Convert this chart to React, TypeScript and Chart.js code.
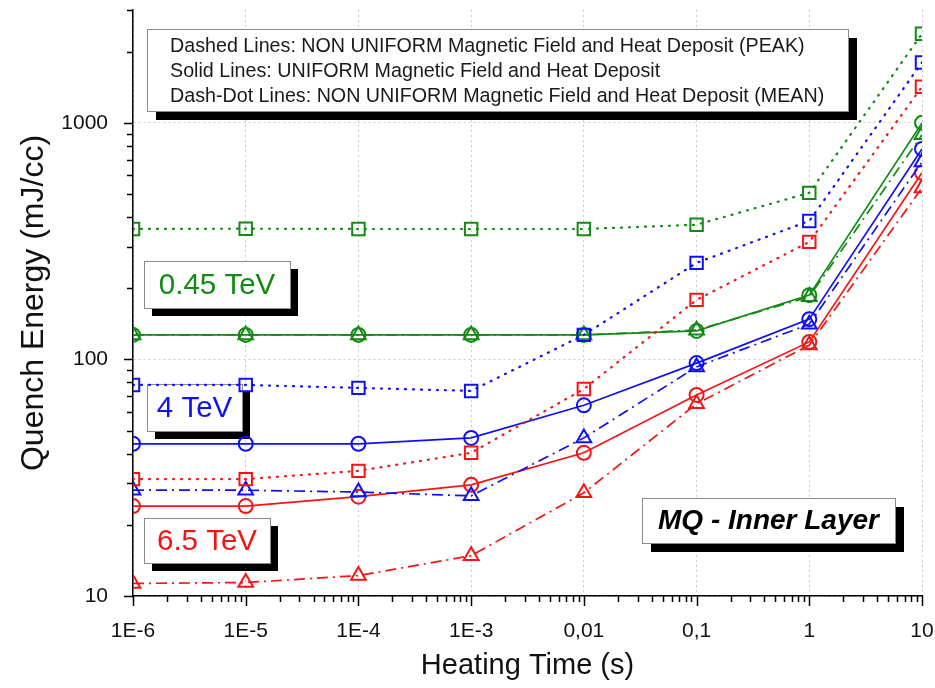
import React, { useEffect, useRef } from 'react';
import { Chart, registerables } from 'chart.js';

Chart.register(...registerables);

const FONT = "'Liberation Sans', Arial, Helvetica, sans-serif";

// Heating time categories (s) and their axis labels
const heatingTimes = [1e-6, 1e-5, 1e-4, 1e-3, 1e-2, 1e-1, 1, 10];
const xTickLabels = ['1E-6', '1E-5', '1E-4', '1E-3', '0,01', '0,1', '1', '10'];
const yTickValues = [10, 100, 1000];
const yTickLabels = ['10', '100', '1000'];

// Quench energy (mJ/cc)
const green045Peak = [356, 357, 356, 356, 356, 371, 506, 2380];
const green045Uniform = [127, 127, 127, 127, 127, 132, 187, 1000];
const green045Mean = [127, 127, 127, 127, 127, 133, 184, 890];
const blue4Peak = [78, 78, 75.8, 73.6, 127, 256, 385, 1800];
const blue4Uniform = [44, 44, 44, 46.6, 64, 96.5, 148, 776];
const blue4Mean = [28, 28, 27.5, 26.5, 46.6, 93, 141, 684];
const red65Peak = [31.2, 31.2, 33.8, 40.3, 75, 178.6, 314, 1420];
const red65Uniform = [24, 24, 26.3, 29.5, 40.3, 70.8, 118.6, 615];
const red65Mean = [11.3, 11.4, 12.2, 14.8, 27.3, 64.9, 115, 531];

const noteLines = [
  'Dashed Lines: NON UNIFORM Magnetic Field and Heat Deposit (PEAK)',
  'Solid Lines: UNIFORM Magnetic Field and Heat Deposit',
  'Dash-Dot Lines: NON UNIFORM Magnetic Field and Heat Deposit (MEAN)',
];
const energyLabels = ['0.45 TeV', '4 TeV', '6.5 TeV'];
const magnetLabel = 'MQ - Inner Layer';

const GREEN = '#138a13';
const BLUE = '#1010f5';
const RED = '#f51414';

type Kind = 'peak' | 'uniform' | 'mean';

function makeDataset(label: string, values: number[], color: string, kind: Kind) {
  const pointStyle = kind === 'peak' ? 'rect' : kind === 'uniform' ? 'circle' : 'triangle';
  const radius = kind === 'peak' ? 8.8 : kind === 'uniform' ? 7 : 8.5;
  const dash = kind === 'peak' ? [1, 7] : kind === 'uniform' ? [] : [11, 5, 2, 5];
  return {
    label,
    data: heatingTimes.map((t, i) => ({ x: t, y: values[i] })),
    borderColor: color,
    borderWidth: kind === 'peak' ? 2.2 : 1.7,
    borderDash: dash,
    borderCapStyle: kind === 'peak' ? 'round' : 'butt',
    pointStyle,
    pointRadius: radius,
    pointBorderWidth: 2,
    pointBorderColor: color,
    pointBackgroundColor: 'rgba(0,0,0,0)',
    fill: false,
    tension: 0,
  };
}

function drawShadowBox(ctx: CanvasRenderingContext2D, x: number, y: number, w: number, h: number, off: number) {
  ctx.fillStyle = '#000';
  ctx.fillRect(x + off, y + off, w, h);
  ctx.fillStyle = '#fff';
  ctx.fillRect(x, y, w, h);
  ctx.strokeStyle = '#8a8a8a';
  ctx.lineWidth = 1;
  ctx.strokeRect(x + 0.5, y + 0.5, w, h);
}

const annotationPlugin = {
  id: 'annotBoxes',
  beforeDatasetsDraw(chart: any) {
    const ctx: CanvasRenderingContext2D = chart.ctx;
    ctx.save();
    // top note box
    drawShadowBox(ctx, 147, 29, 701, 82, 9);
    ctx.fillStyle = '#1a1a1a';
    ctx.font = `19.7px ${FONT}`;
    ctx.textAlign = 'left';
    ctx.textBaseline = 'middle';
    noteLines.forEach((t, i) => ctx.fillText(t, 170, 47 + i * 25));

    // energy labels
    const boxes = [
      { x: 144, y: 261, w: 146, h: 47, c: GREEN },
      { x: 147, y: 384, w: 95, h: 47, c: BLUE },
      { x: 144, y: 518, w: 126, h: 45, c: RED },
    ];
    boxes.forEach((b, i) => {
      drawShadowBox(ctx, b.x, b.y, b.w, b.h, 8);
      ctx.fillStyle = b.c;
      ctx.font = `29.5px ${FONT}`;
      ctx.textAlign = 'center';
      ctx.textBaseline = 'middle';
      ctx.fillText(energyLabels[i], b.x + b.w / 2, b.y + b.h / 2 + 1);
    });

    // magnet label
    drawShadowBox(ctx, 642, 498, 253, 45, 9);
    ctx.fillStyle = '#000';
    ctx.font = `italic bold 28px ${FONT}`;
    ctx.textAlign = 'center';
    ctx.textBaseline = 'middle';
    ctx.fillText(magnetLabel, 642 + 253 / 2, 498 + 45 / 2 + 1);
    ctx.restore();
  },
};

const logTicksPlugin = {
  id: 'logTicks',
  afterDraw(chart: any) {
    const ctx: CanvasRenderingContext2D = chart.ctx;
    const xs = chart.scales.x;
    const ys = chart.scales.y;
    ctx.save();
    ctx.strokeStyle = '#000';
    ctx.lineWidth = 1.5;
    ctx.beginPath();
    for (let e = -6; e <= 1; e++) {
      for (let m = 1; m <= 9; m++) {
        const v = m * Math.pow(10, e);
        if (v > xs.max * 1.0001) continue;
        const px = Math.round(xs.getPixelForValue(v)) + 0.5;
        const len = m === 1 ? 10 : 6;
        ctx.moveTo(px, xs.top);
        ctx.lineTo(px, xs.top + len);
      }
    }
    for (let e = 1; e <= 3; e++) {
      for (let m = 1; m <= 9; m++) {
        const v = m * Math.pow(10, e);
        if (v > ys.max * 1.0001) continue;
        const py = Math.round(ys.getPixelForValue(v)) + 0.5;
        const len = m === 1 ? 9 : 6;
        ctx.moveTo(ys.right, py);
        ctx.lineTo(ys.right - len, py);
      }
    }
    ctx.stroke();
    ctx.restore();
  },
};

function clearScalePadding(s: any) {
  s.paddingLeft = 0;
  s.paddingRight = 0;
  s.paddingTop = 0;
  s.paddingBottom = 0;
}

export default function App() {
  const ref = useRef<HTMLCanvasElement>(null);
  useEffect(() => {
    const canvas = ref.current;
    if (!canvas) return;
    const chart = new Chart(canvas, {
      type: 'line',
      data: {
        datasets: [
          makeDataset('0.45 TeV peak', green045Peak, GREEN, 'peak'),
          makeDataset('4 TeV peak', blue4Peak, BLUE, 'peak'),
          makeDataset('6.5 TeV peak', red65Peak, RED, 'peak'),
          makeDataset('0.45 TeV mean', green045Mean, GREEN, 'mean'),
          makeDataset('4 TeV mean', blue4Mean, BLUE, 'mean'),
          makeDataset('6.5 TeV mean', red65Mean, RED, 'mean'),
          makeDataset('0.45 TeV uniform', green045Uniform, GREEN, 'uniform'),
          makeDataset('4 TeV uniform', blue4Uniform, BLUE, 'uniform'),
          makeDataset('6.5 TeV uniform', red65Uniform, RED, 'uniform'),
        ] as any,
      },
      options: {
        responsive: false,
        animation: false,
        layout: { autoPadding: false, padding: { left: 0, right: 13, top: 10, bottom: 0 } },
        plugins: {
          legend: { display: false },
          tooltip: { enabled: false },
        },
        scales: {
          x: {
            type: 'logarithmic',
            min: 1e-6,
            max: 10,
            afterBuildTicks: (s: any) => {
              s.ticks = heatingTimes.map((v) => ({ value: v }));
            },
            afterFit: (s: any) => {
              s.height = 92;
              clearScalePadding(s);
            },
            grid: { color: '#cccccc', lineWidth: 1, drawTicks: false },
            border: { display: true, color: '#000', width: 1.5, dash: [2, 3] },
            ticks: {
              autoSkip: false,
              maxRotation: 0,
              padding: 23,
              color: '#111',
              font: { family: FONT, size: 21 },
              callback: (v: any) => {
                const i = heatingTimes.findIndex((t) => Math.abs(t / Number(v) - 1) < 1e-6);
                return i >= 0 ? xTickLabels[i] : '';
              },
            },
            title: {
              display: true,
              text: 'Heating Time (s)',
              color: '#111',
              font: { family: FONT, size: 29 },
              padding: { top: 0, bottom: 5 },
            },
          },
          y: {
            type: 'logarithmic',
            min: 10,
            max: 3000,
            afterBuildTicks: (s: any) => {
              s.ticks = yTickValues.map((v) => ({ value: v }));
            },
            afterFit: (s: any) => {
              s.width = 133;
              clearScalePadding(s);
            },
            grid: { color: '#cccccc', lineWidth: 1, drawTicks: false },
            border: { display: true, color: '#000', width: 1.5, dash: [2, 3] },
            ticks: {
              autoSkip: false,
              padding: 25,
              color: '#111',
              font: { family: FONT, size: 21 },
              callback: (v: any) => {
                const i = yTickValues.findIndex((t) => Math.abs(t / Number(v) - 1) < 1e-6);
                return i >= 0 ? yTickLabels[i] : '';
              },
            },
            title: {
              display: true,
              text: 'Quench Energy (mJ/cc)',
              color: '#111',
              font: { family: FONT, size: 32 },
              padding: { top: 15, bottom: 0 },
            },
          },
        },
      } as any,
      plugins: [annotationPlugin, logTicksPlugin],
    });
    return () => chart.destroy();
  }, []);
  return (
    <div style={{ position: 'fixed', left: 0, top: 0, width: 935, height: 688, background: '#fff' }}>
      <canvas ref={ref} width={935} height={688} style={{ display: 'block', width: 935, height: 688 }} />
    </div>
  );
}
